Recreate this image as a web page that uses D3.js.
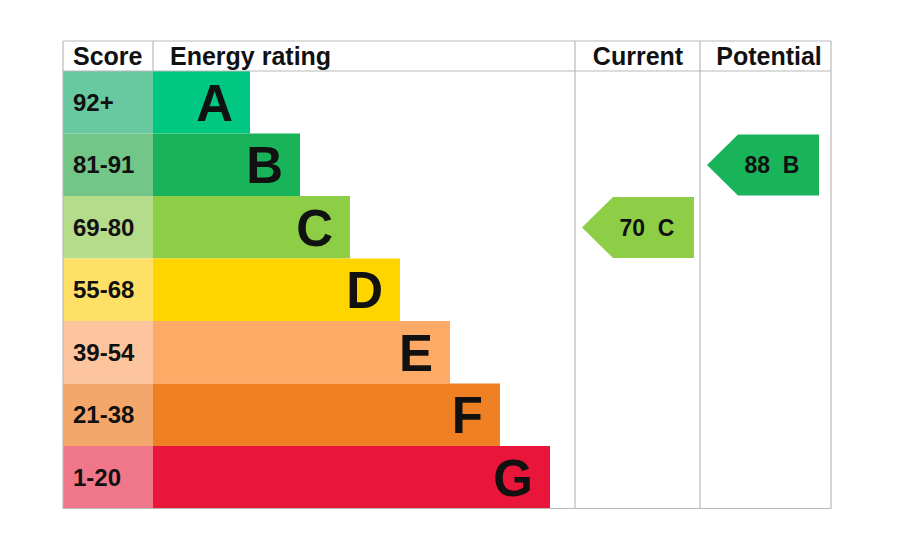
<!DOCTYPE html>
<html>
<head>
<meta charset="utf-8">
<script src="https://cdn.jsdelivr.net/npm/d3@7"></script>
<style>
  body { margin: 0; background: #fff; }
  svg text { font-family: "Liberation Sans", Arial, sans-serif; font-weight: bold; fill: #111; }
</style>
</head>
<body>
<script>
// ratings, top (best) to bottom (worst)
var bands = ['A', 'B', 'C', 'D', 'E', 'F', 'G'];
var scoreLabels = ['92+', '81-91', '69-80', '55-68', '39-54', '21-38', '1-20'];
var bandMins = [92, 81, 69, 55, 39, 21, 1];
var barColors = ['#00c781', '#19b459', '#8dce46', '#ffd500', '#fcaa65', '#ef8023', '#e9153b'];
var scoreColors = ['#68c8a0', '#72c688', '#b4dc8a', '#ffe066', '#fdc59e', '#f4a76b', '#f07689'];
var headers = ['Score', 'Energy rating', 'Current', 'Potential'];
var ratings = [
  { column: 'Current', value: 70 },
  { column: 'Potential', value: 88 }
];

var EPC = {

  width: 915,
  height: 536,
  svg: null,

  init: function () {

    this.svg = d3.select('body').append('svg')
      .attr('width', this.width)
      .attr('height', this.height);

    // column edges: score | energy rating | current | potential
    this.col = d3.scaleOrdinal()
      .domain(headers)
      .range([[63, 153], [153, 575], [575, 700], [700, 831]]);

    this.row = d3.scaleBand()
      .domain(bands)
      .range([71, 508.5]);

    // bar right end grows by one step per band
    this.barEnd = d3.scaleLinear()
      .domain([0, bands.length - 1])
      .range([250, 550]);

    this.drawRows();
    this.drawGrid();
    this.drawHeaders();
    ratings.forEach(this.drawArrow, this);
  },

  drawRows: function () {
    var self = this;
    var scoreCol = this.col('Score');
    var barStart = this.col('Energy rating')[0];

    var g = this.svg.selectAll('g.band')
      .data(bands)
      .enter().append('g')
      .attr('class', 'band')
      .attr('transform', function (d) { return 'translate(0,' + self.row(d) + ')'; });

    g.append('rect')
      .attr('x', scoreCol[0])
      .attr('width', scoreCol[1] - scoreCol[0])
      .attr('height', this.row.bandwidth())
      .attr('fill', function (d, i) { return scoreColors[i]; });

    g.append('rect')
      .attr('x', barStart)
      .attr('width', function (d, i) { return self.barEnd(i) - barStart; })
      .attr('height', this.row.bandwidth())
      .attr('fill', function (d, i) { return barColors[i]; });

    g.append('text')
      .attr('x', scoreCol[0] + 10)
      .attr('y', this.row.bandwidth() / 2)
      .attr('dy', '0.36em')
      .style('font-size', '24px')
      .text(function (d, i) { return scoreLabels[i]; });

    g.append('text')
      .attr('x', function (d, i) { return self.barEnd(i) - 17; })
      .attr('y', this.row.bandwidth() / 2)
      .attr('dy', '0.36em')
      .attr('text-anchor', 'end')
      .style('font-size', '51px')
      .text(function (d) { return d; });
  },

  drawGrid: function () {
    var self = this;
    var top = 41, headBottom = this.row.range()[0], bottom = this.row.range()[1];
    var left = this.col('Score')[0], right = this.col('Potential')[1];
    var xs = headers.map(function (h) { return self.col(h)[0]; }).concat([right]);

    var grid = this.svg.append('g')
      .style('stroke', '#b9b9b9')
      .style('stroke-width', 1.2)
      .style('fill', 'none');

    grid.selectAll('line.v')
      .data(xs)
      .enter().append('line')
      .attr('x1', function (d) { return d; })
      .attr('x2', function (d) { return d; })
      .attr('y1', top)
      .attr('y2', function (d, i) { return (i === 1) ? headBottom : bottom; });

    grid.selectAll('line.h')
      .data([top, headBottom, bottom])
      .enter().append('line')
      .attr('x1', left)
      .attr('x2', right)
      .attr('y1', function (d) { return d; })
      .attr('y2', function (d) { return d; });
  },

  drawHeaders: function () {
    var self = this;
    this.svg.selectAll('text.head')
      .data(headers)
      .enter().append('text')
      .attr('class', 'head')
      .attr('x', function (d, i) {
        var c = self.col(d);
        if (i === 0) return c[0] + 10;
        if (i === 1) return c[0] + 17;
        return (c[0] + c[1]) / 2 + (i === 3 ? 3.5 : 0.5);
      })
      .attr('y', 56)
      .attr('dy', '0.36em')
      .attr('text-anchor', function (d, i) { return i < 2 ? 'start' : 'middle'; })
      .style('font-size', '25px')
      .text(function (d) { return d; });
  },

  bandOf: function (value) {
    var i = bandMins.findIndex(function (m) { return value >= m; });
    return i < 0 ? bands.length - 1 : i;
  },

  drawArrow: function (r) {
    var i = this.bandOf(r.value);
    var c = this.col(r.column);
    var y0 = this.row(bands[i]) + 1;
    var y1 = this.row(bands[i]) + this.row.bandwidth() - 0.5;
    var tip = c[0] + 7, notch = tip + 31, end = tip + 112;
    var mid = (y0 + y1) / 2;

    var pts = [[tip, mid], [notch, y0], [end, y0], [end, y1], [notch, y1]];
    this.svg.append('path')
      .attr('d', d3.line()(pts) + 'Z')
      .attr('fill', barColors[i]);

    this.svg.append('text')
      .attr('x', tip + 65)
      .attr('y', mid)
      .attr('dy', '0.36em')
      .attr('text-anchor', 'middle')
      .attr('xml:space', 'preserve')
      .style('white-space', 'pre')
      .style('font-size', '23px')
      .text(r.value + '  ' + bands[i]);
  }
};

EPC.init();
</script>
</body>
</html>
